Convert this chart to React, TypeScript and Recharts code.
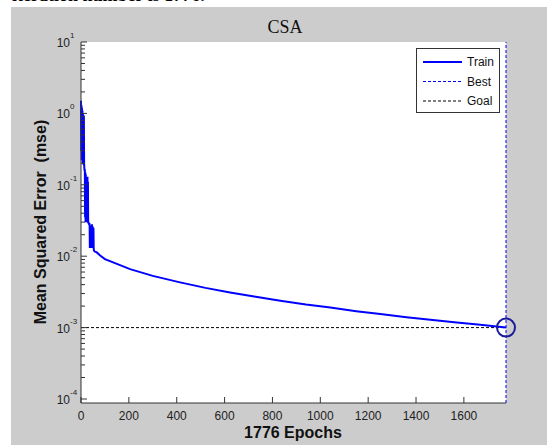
import { CartesianGrid, Line, LineChart, ReferenceDot, ReferenceLine, XAxis, YAxis } from "recharts";

// training record (epoch, mse)
const epochs = [
  0, 1, 2, 3, 4, 5, 6, 7, 8, 9, 10, 11, 12, 13, 14, 15, 16, 17, 18, 19, 20, 21, 22, 23, 24, 25, 26,
  27, 28, 29, 30, 31, 32, 34, 36, 37, 38, 40, 41, 42, 44, 45, 46, 48, 49, 50, 52, 53, 54, 56, 58, 62,
  66, 80, 100, 150, 205, 300, 414, 520, 623, 730, 833, 940, 1042, 1150, 1251, 1360, 1460, 1570, 1669,
  1776,
];
const mse = [
  1.5, 0.3, 1.3, 0.22, 1.2, 0.35, 1.1, 0.2, 1.0, 0.25, 0.95, 0.19, 0.9, 0.2, 0.17, 0.16, 0.16, 0.035,
  0.15, 0.03, 0.14, 0.045, 0.13, 0.03, 0.12, 0.05, 0.03, 0.13, 0.03, 0.11, 0.03, 0.03, 0.029, 0.028,
  0.028, 0.013, 0.027, 0.014, 0.026, 0.013, 0.025, 0.015, 0.028, 0.013, 0.026, 0.014, 0.025, 0.013,
  0.012, 0.0118, 0.0116, 0.0115, 0.0113, 0.0102, 0.0091, 0.0078, 0.0066, 0.0053, 0.0043, 0.0036,
  0.0031, 0.0027, 0.00237, 0.0021, 0.00191, 0.0017, 0.00155, 0.0014, 0.00129, 0.00118, 0.0011, 0.001,
];

const bestEpoch = 1776;
const goal = 0.001;

const xTicks = [0, 200, 400, 600, 800, 1000, 1200, 1400, 1600];
const decades = [-4, -3, -2, -1, 0, 1];
const yTicks = decades.flatMap((e) =>
  e === 1 ? [10] : [1, 2, 3, 4, 5, 6, 7, 8, 9].map((m) => m * Math.pow(10, e))
);

const legendItems = [
  { name: "Train", color: "#0000ff", dash: undefined, width: 2 },
  { name: "Best", color: "#0000ff", dash: "3 2", width: 1 },
  { name: "Goal", color: "#000", dash: "3 2", width: 1 },
];

const rows = epochs.map((epoch, i) => ({ epoch, mse: mse[i] }));

const axisColor = "#333";
const font = "Arial, 'Liberation Sans', sans-serif";

function YTick({ x, y, payload }: any) {
  const lg = Math.log10(payload.value);
  const exp = Math.round(lg);
  const major = Math.abs(lg - exp) < 1e-6;
  return (
    <g>
      <line x1={x} x2={x + (major ? 6 : 4)} y1={y} y2={y} stroke={axisColor} />
      {major && (
        <>
          <text x={x - 11} y={y + 5} textAnchor="end" fontSize={12} fill="#222" fontFamily={font}>
            10
          </text>
          <text x={x - 11} y={y - 4} fontSize={8} fill="#222" fontFamily={font}>
            {exp}
          </text>
        </>
      )}
    </g>
  );
}

function XTick({ x, y, payload }: any) {
  return (
    <g>
      <line x1={x} x2={x} y1={y} y2={y - 6} stroke={axisColor} />
      <text x={x} y={y + 17} textAnchor="middle" fontSize={12} fill="#222" fontFamily={font}>
        {payload.value}
      </text>
    </g>
  );
}

function MseLegend() {
  return (
    <svg
      width={84}
      height={65}
      style={{ position: "absolute", left: 416, top: 48 }}
    >
      <rect x={0.5} y={0.5} width={83} height={64} fill="#fff" stroke="#333" />
      {legendItems.map((item, i) => (
        <g key={item.name}>
          <line
            x1={7}
            x2={46}
            y1={14 + i * 19.5}
            y2={14 + i * 19.5}
            stroke={item.color}
            strokeWidth={item.width}
            strokeDasharray={item.dash}
          />
          <text x={51} y={18 + i * 19.5} fontSize={12} fill="#111" fontFamily={font}>
            {item.name}
          </text>
        </g>
      ))}
    </svg>
  );
}

export default function App() {
  return (
    <div
      style={{
        position: "absolute",
        left: 0,
        top: 0,
        width: 547,
        height: 445,
        overflow: "hidden",
        background: "#fff",
      }}
    >
      <div
        style={{
          position: "absolute",
          left: 11,
          top: 7,
          right: 0,
          bottom: 0,
          background: "#cccccc",
        }}
      />
      <svg width={547} height={445} style={{ position: "absolute", left: 0, top: 0 }}>
        {/* caption of the page above the figure, mostly cropped away */}
        <text
          x={12}
          y={1}
          fontSize={18}
          fontWeight="bold"
          fontFamily="'Liberation Serif', 'Times New Roman', serif"
          fill="#000"
        >
          iteration number is 1776.
        </text>
        <text
          x={285}
          y={33}
          textAnchor="middle"
          fontSize={18}
          fontFamily="'Liberation Serif', 'Times New Roman', serif"
          fill="#111"
        >
          CSA
        </text>
        <text
          x={46}
          y={222}
          transform="rotate(-90 46 222)"
          textAnchor="middle"
          fontSize={16}
          fontWeight="bold"
          fontFamily={font}
          fill="#111"
          style={{ whiteSpace: "pre" }}
        >
          Mean Squared Error  (mse)
        </text>
        <text
          x={293}
          y={438}
          textAnchor="middle"
          fontSize={16}
          fontWeight="bold"
          fontFamily={font}
          fill="#111"
        >
          1776 Epochs
        </text>
      </svg>
      <div style={{ position: "absolute", left: 0, top: 0 }}>
        <LineChart
          width={547}
          height={445}
          data={rows}
          margin={{ top: 42, right: 41, bottom: 12, left: 41 }}
        >
          <CartesianGrid horizontal={false} vertical={false} fill="#fff" />
          <XAxis
            dataKey="epoch"
            type="number"
            domain={[0, 1776]}
            ticks={xTicks}
            interval={0}
            height={30}
            tickSize={0}
            tickMargin={0}
            tickLine={false}
            axisLine={{ stroke: axisColor }}
            tick={<XTick />}
          />
          <YAxis
            type="number"
            scale="log"
            domain={[8.79e-5, 10]}
            allowDataOverflow
            ticks={yTicks}
            interval={0}
            width={40}
            tickSize={0}
            tickMargin={0}
            tickLine={false}
            axisLine={{ stroke: axisColor }}
            tick={<YTick />}
          />
          <ReferenceLine y={goal} stroke="#000" strokeDasharray="3 2" strokeWidth={1} />
          <Line
            type="linear"
            dataKey="mse"
            stroke="#0000ff"
            strokeWidth={2}
            dot={false}
            isAnimationActive={false}
          />
          <ReferenceLine x={bestEpoch} stroke="#0000ff" strokeDasharray="3 2" strokeWidth={1} />
          <ReferenceDot
            x={bestEpoch}
            y={goal}
            r={9}
            fill="none"
            stroke="#1a1a9a"
            strokeWidth={2}
          />
        </LineChart>
      </div>
      <MseLegend />
    </div>
  );
}
